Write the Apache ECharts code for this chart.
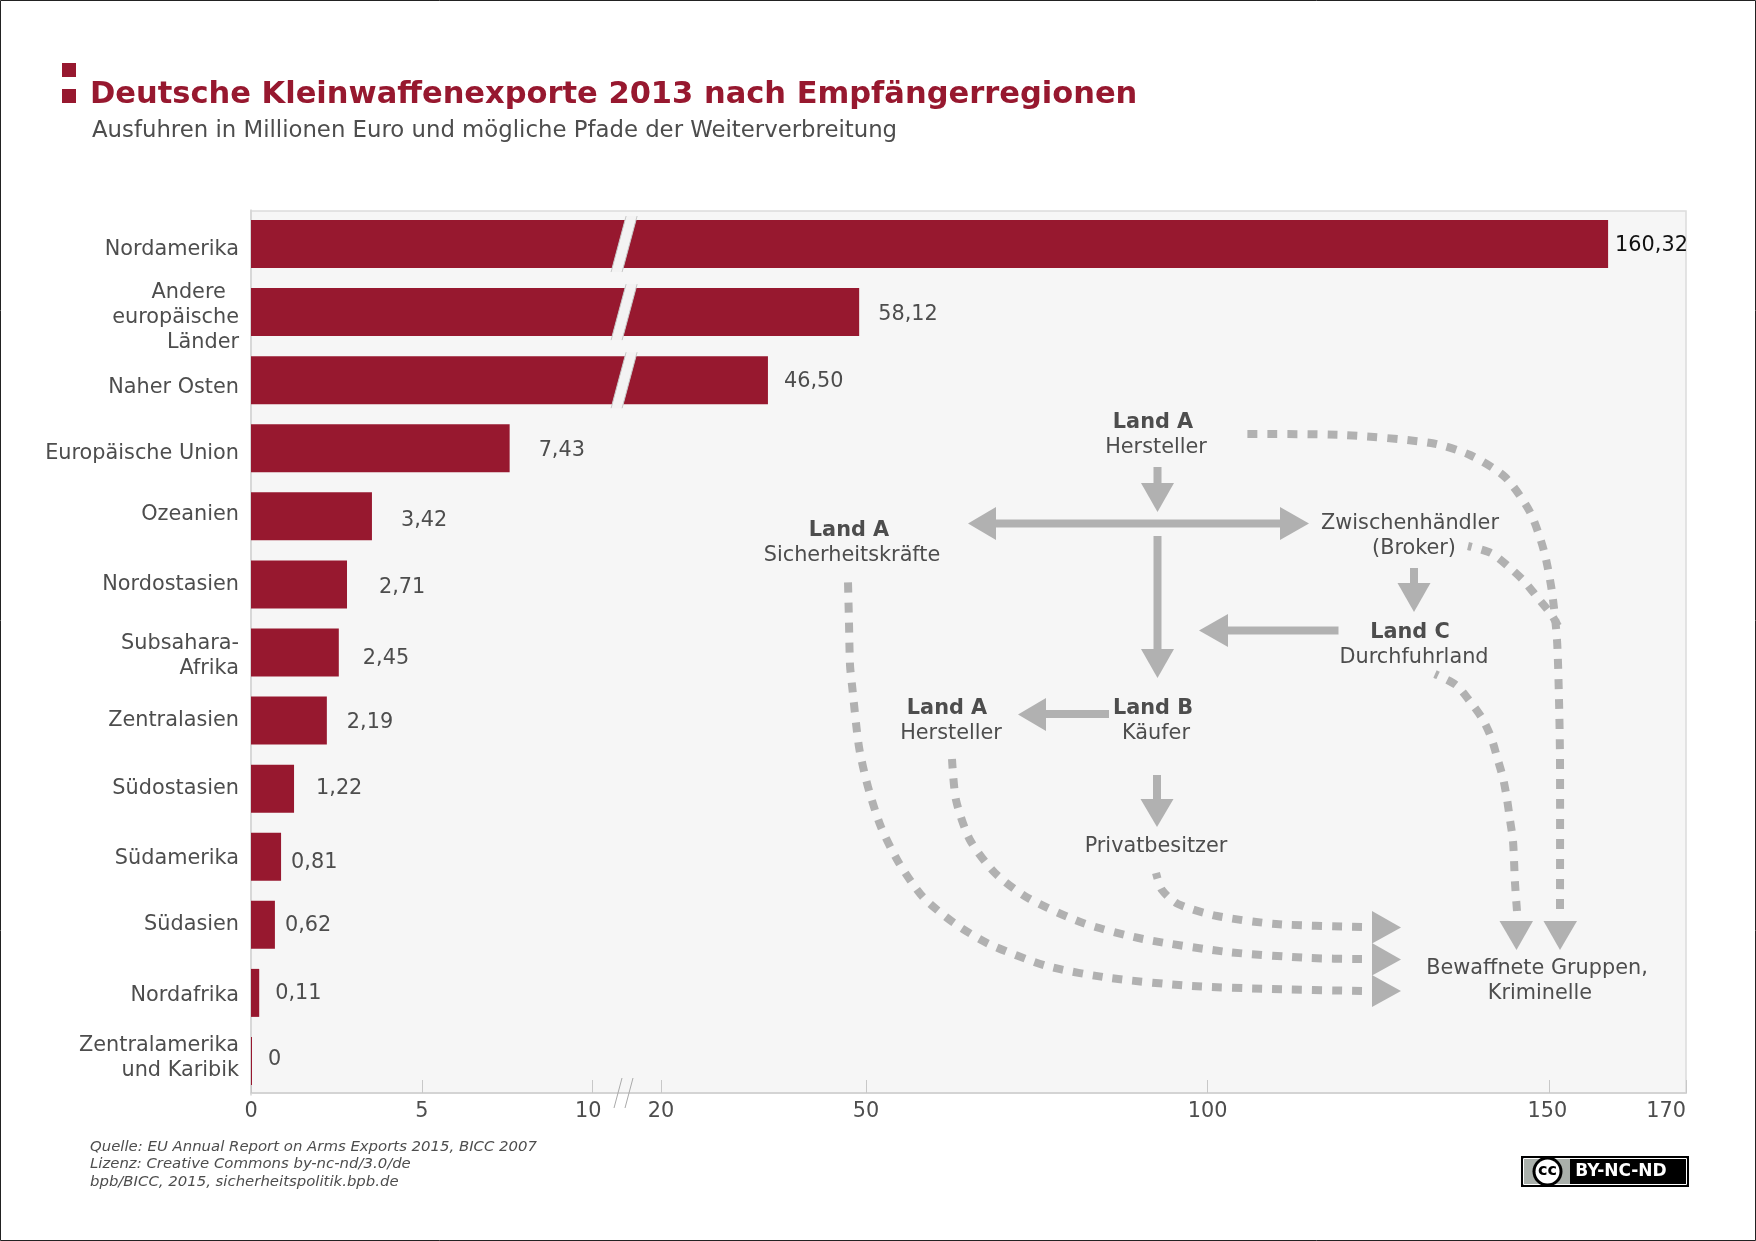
<!DOCTYPE html>
<html>
<head>
<meta charset="utf-8">
<title>Deutsche Kleinwaffenexporte 2013</title>
<script src="https://cdn.jsdelivr.net/npm/echarts@6/dist/echarts.min.js"></script>
<style>
html,body{margin:0;padding:0;background:#fff;}
#main{width:1756px;height:1241px;}
</style>
</head>
<body>
<div id="main"></div>
<script>
// printed values (Mio. Euro)
var categories = ['Nordamerika','Andere\u00a0\u00a0\neuropäische\nLänder','Naher Osten','Europäische Union','Ozeanien','Nordostasien','Subsahara-\nAfrika','Zentralasien','Südostasien','Südamerika','Südasien','Nordafrika','Zentralamerika\nund Karibik'];
var printedValues = [160.32,58.12,46.50,7.43,3.42,2.71,2.45,2.19,1.22,0.81,0.62,0.11,0];
// bar lengths as read against the axis, the big bars do not agree with their printed numbers
var barLengths = [158.6,49.0,35.65,7.57,3.54,2.81,2.57,2.22,1.26,0.88,0.70,0.24,0];
var tickValues = [0,5,10,20,50,100,150,170];
var brokenCategories = [categories[0],categories[1],categories[2]];
var breakValue = 14.6;

// layout of the labels: gap to bar end, shift from bar centre
var labelGaps = [7,19,16,29,29,32,24,20,22,10,10,16,16];
var labelShifts = [2,2,1,2,4,3,6,2,0,6,1,1,-1];
var categoryShifts = [6,5,7,5,-2,0,4,0,0,2,0,3,-3];

var RED = '#97182f', TEXT = '#4d4d4d', ARROW = '#b1b1b1', FONT = '"DejaVu Sans",Verdana,sans-serif';
var SIZE = 20.8;

// axis is stretched 5x below 10, linear units above
function toAxis(v) {
    return v <= 10 ? v : 10 + (v - 10) / 5;
}
function printed(v) {
    return v === 0 ? '0' : v.toFixed(2).replace('.', ',');
}

function txt(s, x, y, bold) {
    return {type:'text', z:10, style:{text:s, x:x, y:y + 1.5, fill:TEXT, align:'center', verticalAlign:'middle', font:(bold ? 'bold ' : '') + SIZE + 'px ' + FONT}};
}
function poly(points) {
    return {type:'polygon', z:10, shape:{points:points}, style:{fill:ARROW}};
}
function shaft(x1, y1, x2, y2) {
    return {type:'line', z:10, shape:{x1:x1,y1:y1,x2:x2,y2:y2}, style:{stroke:ARROW, lineWidth:8}};
}
// points run from the arrow head back, so a full dash sits at the head
function dotted(points) {
    return {type:'polyline', z:9, shape:{points:points, smooth:0.25}, style:{stroke:ARROW, lineWidth:8, lineDash:[10,10], fill:null}};
}

var diagram = [
    txt('Land A',1153,421,true), txt('Hersteller',1156,446),
    txt('Land A',849,529,true), txt('Sicherheitskräfte',852,554),
    txt('Zwischenhändler',1410,522), txt('(Broker)',1414,547),
    txt('Land C',1410,631,true), txt('Durchfuhrland',1414,656),
    txt('Land A',947,707,true), txt('Hersteller',951,732),
    txt('Land B',1153,707,true), txt('Käufer',1156,732),
    txt('Privatbesitzer',1156,845),
    txt('Bewaffnete Gruppen,',1537,967), txt('Kriminelle',1540,992),

    shaft(1157.5,467,1157.5,484), poly([[1141,483],[1174,483],[1157.5,512]]),
    shaft(990,523.5,1285,523.5), poly([[996,507],[996,540],[968,523.5]]), poly([[1280,507],[1280,540],[1309,523.5]]),
    shaft(1157.5,536,1157.5,650), poly([[1141,649],[1174,649],[1157.5,678]]),
    shaft(1414,568,1414,584), poly([[1397.5,583],[1430.5,583],[1414,612]]),
    shaft(1225,630.5,1338.5,630.5), poly([[1228,614],[1228,647],[1199,630.5]]),
    shaft(1044,714,1109,714), poly([[1046,698],[1046,731],[1018,714.5]]),
    shaft(1157,775,1157,800), poly([[1140.5,799],[1173.5,799],[1157,827]]),

    poly([[1372,911],[1372,943.5],[1401,927.5]]),
    poly([[1372,943],[1372,975.5],[1401,959.5]]),
    poly([[1372,975],[1372,1007],[1401,991]]),
    poly([[1499.5,921],[1533,921],[1516.5,950]]),
    poly([[1543.5,921],[1577,921],[1560,950]]),

    dotted([[1560,909],[1560,760],[1559,700],[1557,640],[1552,592],[1544,551],[1530,512],[1505,477],[1470,455],[1431,443],[1343,435],[1244,434]]),
    dotted([[1558,626],[1551,614],[1537,597],[1524,581],[1509,567],[1491,553],[1468,546]]),
    dotted([[1517,911],[1515,883],[1513,841],[1510,820],[1507,799],[1503,778],[1497,757],[1491,737],[1482,718],[1469,700],[1456,685],[1435,674]]),
    dotted([[1362,991],[1272,989],[1192,986],[1110,978],[1047,966],[989,944],[954,923],[923,897],[899,863],[881,827],[868,787],[859,747],[852,685],[850,665],[849,623],[848,582]]),
    dotted([[1362,959],[1310,958],[1228,952],[1143,939],[1083,923],[1028,898],[995,873],[970,840],[956,800],[952,759]]),
    dotted([[1362,927],[1276,924],[1217,916],[1178,904],[1162,890],[1156,873]])
];

var frame = [
    {type:'rect', z:-2, shape:{x:0.5,y:0.5,width:1755,height:1240}, style:{fill:'#fff', stroke:'#222', lineWidth:1}},
    {type:'rect', z:-1, shape:{x:251,y:211,width:1435,height:882}, style:{fill:'#f6f6f6', stroke:'#dcdcdc', lineWidth:1.5}},
    {type:'rect', z:10, shape:{x:62,y:63,width:14,height:14}, style:{fill:RED}},
    {type:'rect', z:10, shape:{x:62,y:89,width:14,height:14}, style:{fill:RED}},
    {type:'text', z:10, style:{text:'Deutsche Kleinwaffenexporte 2013 nach Empfängerregionen', x:90, y:95, fill:RED, align:'left', verticalAlign:'middle', font:'bold 30.5px ' + FONT}},
    {type:'text', z:10, style:{text:'Ausfuhren in Millionen Euro und mögliche Pfade der Weiterverbreitung', x:92, y:131, fill:TEXT, align:'left', verticalAlign:'middle', font:'22.8px ' + FONT}},
    {type:'text', z:10, style:{text:'Quelle: EU Annual Report on Arms Exports 2015, BICC 2007', x:90, y:1147, fill:TEXT, align:'left', verticalAlign:'middle', font:'italic 14.9px ' + FONT}},
    {type:'text', z:10, style:{text:'Lizenz: Creative Commons by-nc-nd/3.0/de', x:90, y:1164.5, fill:TEXT, align:'left', verticalAlign:'middle', font:'italic 14.9px ' + FONT}},
    {type:'text', z:10, style:{text:'bpb/BICC, 2015, sicherheitspolitik.bpb.de', x:90, y:1182, fill:TEXT, align:'left', verticalAlign:'middle', font:'italic 14.9px ' + FONT}},
    // break marks on the axis
    {type:'line', z:10, shape:{x1:622,y1:1078,x2:614,y2:1108}, style:{stroke:'#aaa', lineWidth:1}},
    {type:'line', z:10, shape:{x1:633,y1:1078,x2:625,y2:1108}, style:{stroke:'#aaa', lineWidth:1}},
    // licence badge
    {type:'rect', z:10, shape:{x:1521,y:1156,width:168,height:31}, style:{fill:'#000'}},
    {type:'rect', z:10, shape:{x:1523.5,y:1158.5,width:163,height:26}, style:{fill:'#000', stroke:'#fff', lineWidth:1}},
    {type:'rect', z:10, shape:{x:1524,y:1159,width:46,height:25}, style:{fill:'#aab0ab'}},
    {type:'circle', z:11, shape:{cx:1547.5,cy:1171.5,r:15}, style:{fill:'#000'}},
    {type:'circle', z:11, shape:{cx:1547.5,cy:1171.5,r:12}, style:{fill:'#fff'}},
    {type:'text', z:12, style:{text:'cc', x:1547.5, y:1170.5, fill:'#000', align:'center', verticalAlign:'middle', font:'bold 16px ' + FONT}},
    {type:'text', z:12, style:{text:'BY-NC-ND', x:1621, y:1172, fill:'#fff', align:'center', verticalAlign:'middle', font:'bold 17px ' + FONT}}
];

// category labels sit a little off their bars, an empty spacer line above or below moves them
var categoryRich = {plain:{color:TEXT, fontSize:SIZE, lineHeight:25}};
categoryShifts.forEach(function(s, i) {
    if (s !== 0) categoryRich['gap' + i] = {fontSize:1, lineHeight:2*Math.abs(s), height:2*Math.abs(s)};
});
function categoryLabel(value, index) {
    var s = categoryShifts[index];
    var lines = value.split('\n').map(function(l) { return '{plain|' + l + '}'; });
    if (s > 0) lines.unshift('{gap' + index + '| }');
    if (s < 0) lines.push('{gap' + index + '| }');
    return lines.join('\n');
}

var myChart = echarts.init(document.getElementById('main'));

var option = {
    animation: false,
    textStyle: {fontFamily: FONT},
    graphic: {elements: frame.concat(diagram)},
    grid: {left:251, top:210, width:1435, height:885},
    xAxis: {
        type: 'value',
        min: 0,
        max: toAxis(170),
        offset: -2,
        splitLine: {show:false},
        axisLine: {show:true, lineStyle:{color:'#d4d4d4', width:2}},
        axisTick: {show:true, inside:true, length:13, lineStyle:{color:'#c8c8c8', width:1}, customValues:tickValues.map(toAxis)},
        axisLabel: {
            customValues: tickValues.map(toAxis),
            color: TEXT,
            fontSize: SIZE,
            margin: 8,
            alignMaxLabel: 'right',
            rich: {
                ten: {color:TEXT, fontSize:SIZE, padding:[0,9,0,0]},
                oneFifty: {color:TEXT, fontSize:SIZE, padding:[0,4,0,0]}
            },
            formatter: function(u) {
                var v = u <= 10 ? Math.round(u) : Math.round(10 + (u - 10) * 5);
                if (v === 10) return '{ten|10}';
                if (v === 150) return '{oneFifty|150}';
                return String(v);
            }
        }
    },
    yAxis: {
        type: 'category',
        inverse: true,
        data: categories,
        axisLine: {show:true, lineStyle:{color:'#d4d4d4', width:1.5}},
        axisTick: {show:false},
        axisLabel: {color:TEXT, fontSize:SIZE, lineHeight:25, margin:12, align:'right', rich:categoryRich, formatter:categoryLabel}
    },
    series: [
        {
            type: 'bar',
            barWidth: 48,
            barMinHeight: 1,
            itemStyle: {color:RED},
            label: {
                show: true,
                position: 'right',
                distance: 0,
                color: TEXT,
                fontSize: SIZE,
                formatter: function(p) {
                    return printed(printedValues[p.dataIndex]);
                }
            },
            data: barLengths.map(function(v, i) {
                return {
                    value: toAxis(v),
                    label: {offset:[labelGaps[i], labelShifts[i]], color: i === 0 ? '#111' : TEXT}
                };
            })
        },
        {
            // slanted cuts through the three long bars
            type: 'custom',
            silent: true,
            clip: false,
            z: 3,
            data: brokenCategories.map(function(c) { return [toAxis(breakValue), c]; }),
            renderItem: function(params, api) {
                var p = api.coord([api.value(0), api.value(1)]);
                return {
                    type: 'group',
                    children: [
                        {type:'polygon', shape:{points:[[p[0]+2,p[1]-28],[p[0]+13,p[1]-28],[p[0]-2,p[1]+28],[p[0]-13,p[1]+28]]}, style:{fill:'#f3f3f3'}},
                        {type:'line', shape:{x1:p[0]+2,y1:p[1]-28,x2:p[0]-13,y2:p[1]+28}, style:{stroke:'#c8c8c8', lineWidth:1}},
                        {type:'line', shape:{x1:p[0]+13,y1:p[1]-28,x2:p[0]-2,y2:p[1]+28}, style:{stroke:'#c8c8c8', lineWidth:1}}
                    ]
                };
            }
        }
    ]
};
myChart.setOption(option);
window.onresize = myChart.resize;
</script>
</body>
</html>
